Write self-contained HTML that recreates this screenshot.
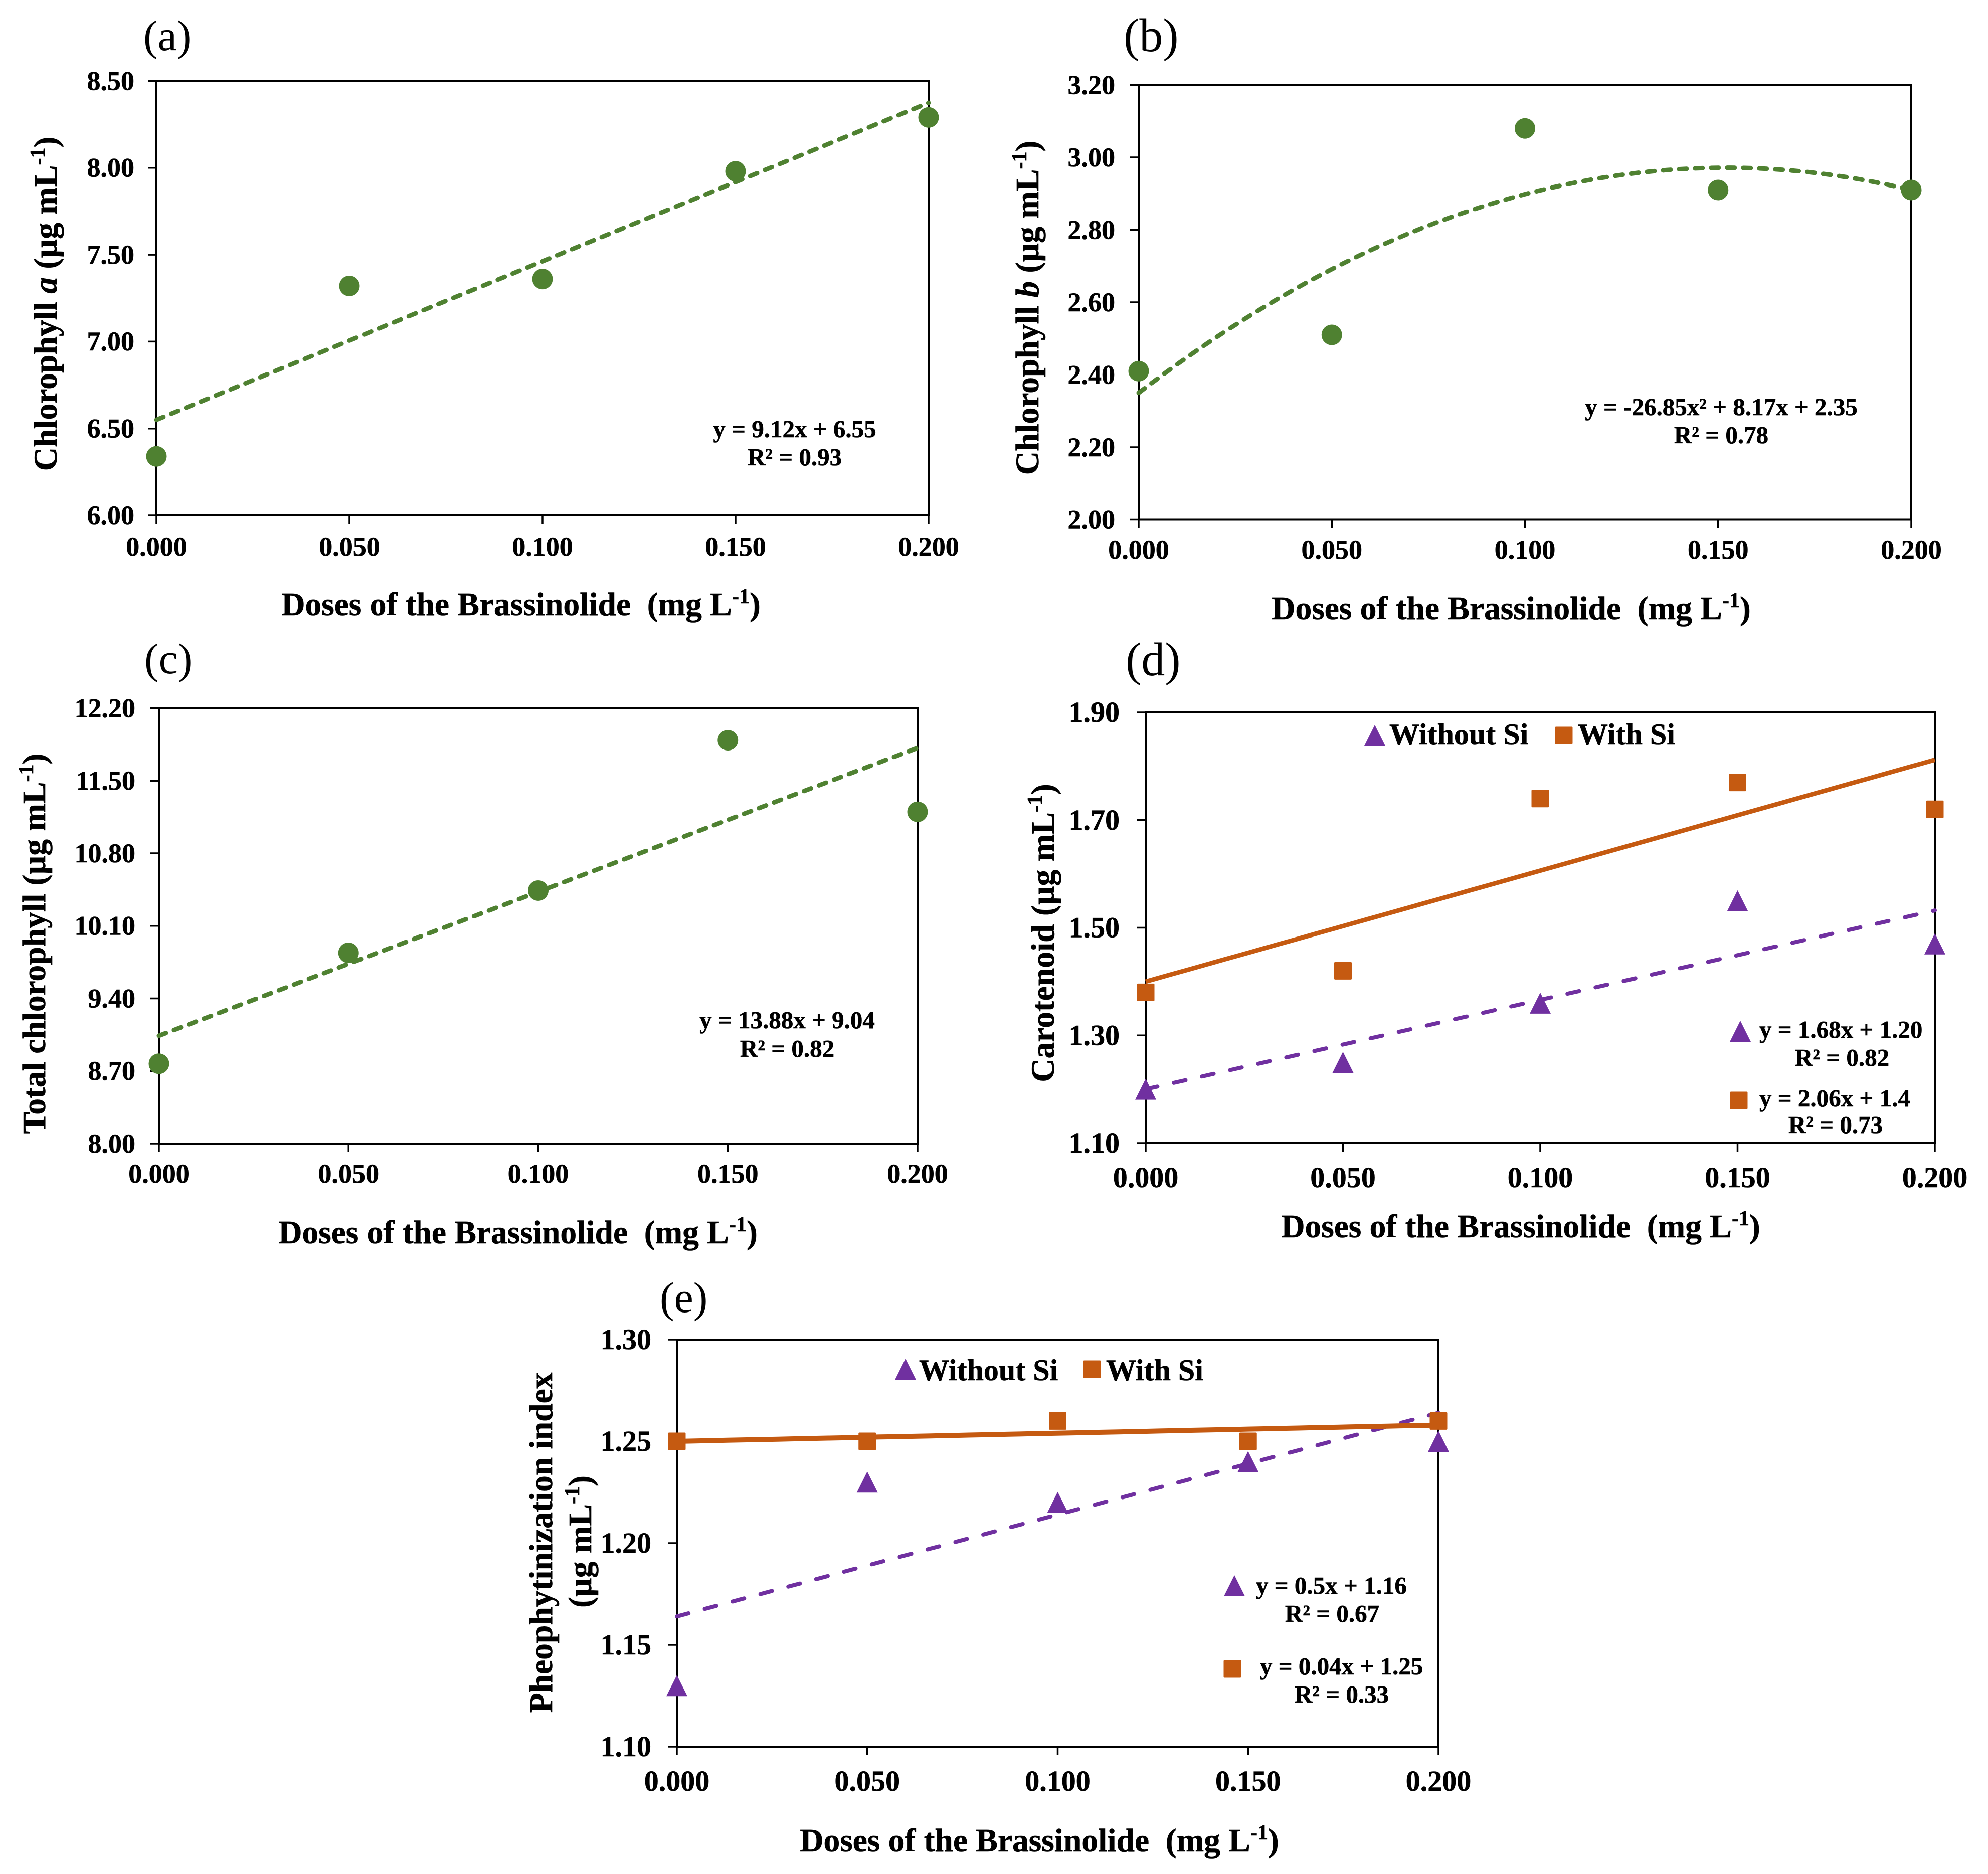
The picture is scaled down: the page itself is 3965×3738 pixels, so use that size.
<!DOCTYPE html>
<html lang="en">
<head>
<meta charset="utf-8">
<title>Brassinolide dose response charts</title>
<style>
html,body{margin:0;padding:0;background:#fff;}
svg{display:block;}
text{font-family:"Liberation Serif",serif;font-weight:bold;fill:#000;stroke:#000;stroke-width:0.6px;}
.panel-tag{font-weight:normal;font-size:86px;stroke-width:0;}
.panel-tag.big{font-size:94px;}
.axis-title{font-size:65.5px;}
.eq{font-size:49px;}
.legend{font-size:60px;}
</style>
</head>
<body>
<svg id="chart" xmlns="http://www.w3.org/2000/svg" width="3965" height="3738" viewBox="0 0 3965 3738">
  <rect width="3965" height="3738" fill="#fff"/>
  <g id="marks"></g>

  <!-- Panel a -->
  <text class="panel-tag" x="286" y="100">(a)</text>
  <text class="axis-title" text-anchor="middle" transform="translate(113 606) rotate(-90)">Chlorophyll <tspan font-style="italic">a</tspan> (µg mL<tspan dy="-24" font-size="42">-1</tspan><tspan dy="24">)</tspan></text>
  <text class="axis-title" text-anchor="middle" x="1039" y="1227" xml:space="preserve">Doses of the Brassinolide  (mg L<tspan dy="-24" font-size="42">-1</tspan><tspan dy="24">)</tspan></text>
  <text class="eq" text-anchor="middle" x="1585" y="872">y = 9.12x + 6.55</text>
  <text class="eq" text-anchor="middle" x="1585" y="928">R² = 0.93</text>

  <!-- Panel b -->
  <text class="panel-tag big" x="2241" y="102">(b)</text>
  <text class="axis-title" text-anchor="middle" transform="translate(2071 614) rotate(-90)">Chlorophyll <tspan font-style="italic">b</tspan> (µg mL<tspan dy="-24" font-size="42">-1</tspan><tspan dy="24">)</tspan></text>
  <text class="axis-title" text-anchor="middle" x="3014" y="1235" xml:space="preserve">Doses of the Brassinolide  (mg L<tspan dy="-24" font-size="42">-1</tspan><tspan dy="24">)</tspan></text>
  <text class="eq" text-anchor="middle" x="3433" y="828">y = -26.85x² + 8.17x + 2.35</text>
  <text class="eq" text-anchor="middle" x="3433" y="884">R² = 0.78</text>

  <!-- Panel c -->
  <text class="panel-tag" x="288" y="1343">(c)</text>
  <text class="axis-title" text-anchor="middle" transform="translate(90 1882) rotate(-90)">Total chlorophyll (µg mL<tspan dy="-24" font-size="42">-1</tspan><tspan dy="24">)</tspan></text>
  <text class="axis-title" text-anchor="middle" x="1033" y="2480" xml:space="preserve">Doses of the Brassinolide  (mg L<tspan dy="-24" font-size="42">-1</tspan><tspan dy="24">)</tspan></text>
  <text class="eq" text-anchor="middle" x="1570" y="2051">y = 13.88x + 9.04</text>
  <text class="eq" text-anchor="middle" x="1570" y="2108">R² = 0.82</text>

  <!-- Panel d -->
  <text class="panel-tag big" x="2245" y="1347">(d)</text>
  <text class="axis-title" text-anchor="middle" transform="translate(2102 1861) rotate(-90)">Carotenoid (µg mL<tspan dy="-24" font-size="42">-1</tspan><tspan dy="24">)</tspan></text>
  <text class="axis-title" text-anchor="middle" x="3033" y="2468" xml:space="preserve">Doses of the Brassinolide  (mg L<tspan dy="-24" font-size="42">-1</tspan><tspan dy="24">)</tspan></text>
  <text class="legend" x="2771" y="1485">Without Si</text>
  <text class="legend" x="3147" y="1485">With Si</text>
  <text class="eq" x="3509" y="2070">y = 1.68x + 1.20</text>
  <text class="eq" text-anchor="middle" x="3674" y="2126">R² = 0.82</text>
  <text class="eq" x="3509" y="2207">y = 2.06x + 1.4</text>
  <text class="eq" text-anchor="middle" x="3661" y="2260">R² = 0.73</text>

  <!-- Panel e -->
  <text class="panel-tag" x="1316" y="2617">(e)</text>
  <text class="axis-title" text-anchor="middle" transform="translate(1101 3077) rotate(-90)">Pheophytinization index</text>
  <text class="axis-title" text-anchor="middle" transform="translate(1179 3075) rotate(-90)">(µg mL<tspan dy="-24" font-size="42">-1</tspan><tspan dy="24">)</tspan></text>
  <text class="axis-title" text-anchor="middle" x="2073" y="3693" xml:space="preserve">Doses of the Brassinolide  (mg L<tspan dy="-24" font-size="42">-1</tspan><tspan dy="24">)</tspan></text>
  <text class="legend" x="1833" y="2753">Without Si</text>
  <text class="legend" x="2206" y="2753">With Si</text>
  <text class="eq" x="2505" y="3179">y = 0.5x + 1.16</text>
  <text class="eq" text-anchor="middle" x="2657" y="3235">R² = 0.67</text>
  <text class="eq" x="2513" y="3340">y = 0.04x + 1.25</text>
  <text class="eq" text-anchor="middle" x="2676" y="3396">R² = 0.33</text>
</svg>

<script>
// Shared category axis
const doses = [0, 0.05, 0.1, 0.15, 0.2];
const xTickLabels = ['0.000', '0.050', '0.100', '0.150', '0.200'];

// Panel a
const chlorophyllA = [6.34, 7.32, 7.36, 7.98, 8.29];
const chlorophyllATrend = [0, 9.12, 6.55];
const yTicksA = ['6.00', '6.50', '7.00', '7.50', '8.00', '8.50'];

// Panel b
const chlorophyllB = [2.41, 2.51, 3.08, 2.91, 2.91];
const chlorophyllBTrend = [-26.85, 8.17, 2.35];
const yTicksB = ['2.00', '2.20', '2.40', '2.60', '2.80', '3.00', '3.20'];

// Panel c
const totalChlorophyll = [8.77, 9.84, 10.44, 11.89, 11.2];
const totalChlorophyllTrend = [0, 13.88, 9.04];
const yTicksC = ['8.00', '8.70', '9.40', '10.10', '10.80', '11.50', '12.20'];

// Panel d
const carotenoidWithoutSi = [1.2, 1.25, 1.36, 1.55, 1.47];
const carotenoidWithSi = [1.38, 1.42, 1.74, 1.77, 1.72];
const carotenoidWithoutTrend = [0, 1.66, 1.2];
const carotenoidWithTrend = [0, 2.06, 1.4];
const yTicksD = ['1.10', '1.30', '1.50', '1.70', '1.90'];

// Panel e
const pheophytinWithoutSi = [1.13, 1.23, 1.22, 1.24, 1.25];
const pheophytinWithSi = [1.25, 1.25, 1.26, 1.25, 1.26];
const pheophytinWithoutTrend = [0, 0.5, 1.164];
const pheophytinWithTrend = [0, 0.04, 1.25];
const yTicksE = ['1.10', '1.15', '1.20', '1.25', '1.30'];

const GREEN = '#4f8131';
const PURPLE = '#7030a0';
const ORANGE = '#c55a11';
const NS = 'http://www.w3.org/2000/svg';
const root = document.getElementById('marks');

function make(tag, parent) {
  const el = document.createElementNS(NS, tag);
  parent.appendChild(el);
  return el;
}

function circleMark(parent, cx, cy, name) {
  const el = make('circle', parent);
  
  
  el.setAttribute('cx', cx);
  el.setAttribute('cy', cy);
  el.setAttribute('r', 20.5);
  el.setAttribute('fill', GREEN);
}

function squareMark(parent, cx, cy, name) {
  const el = make('rect', parent);
  
  
  el.setAttribute('x', cx - 17.5);
  el.setAttribute('y', cy - 17.5);
  el.setAttribute('width', 35);
  el.setAttribute('height', 35);
  el.setAttribute('rx', 2);
  el.setAttribute('fill', ORANGE);
}

function triangleMark(parent, cx, cy, name) {
  const el = make('polygon', parent);
  
  
  el.setAttribute('points', (cx) + ',' + (cy - 21) + ' ' + (cx + 21) + ',' + (cy + 21) + ' ' + (cx - 21) + ',' + (cy + 21));
  el.setAttribute('fill', PURPLE);
}

function drawPanel(cfg) {
  const g = make('g', root);
  
  

  const yVals = cfg.yTicks.map(parseFloat);
  const yMin = yVals[0];
  const yMax = yVals[yVals.length - 1];
  const xMin = doses[0];
  const xMax = doses[doses.length - 1];
  const xScale = v => cfg.x0 + (v - xMin) / (xMax - xMin) * (cfg.x1 - cfg.x0);
  const yScale = v => cfg.y1 - (v - yMin) / (yMax - yMin) * (cfg.y1 - cfg.y0);

  const frame = make('rect', g);
  
  
  frame.setAttribute('x', cfg.x0);
  frame.setAttribute('y', cfg.y0);
  frame.setAttribute('width', cfg.x1 - cfg.x0);
  frame.setAttribute('height', cfg.y1 - cfg.y0);
  frame.setAttribute('fill', 'none');
  frame.setAttribute('stroke', '#000');
  frame.setAttribute('stroke-width', 4);

  doses.forEach((d, i) => {
    const px = xScale(d);
    const tick = make('line', g);
    
    
    tick.setAttribute('x1', px);
    tick.setAttribute('x2', px);
    tick.setAttribute('y1', cfg.y1);
    tick.setAttribute('y2', cfg.y1 + 17);
    tick.setAttribute('stroke', '#000');
    tick.setAttribute('stroke-width', 3.5);
    const label = make('text', g);
    
    
    label.setAttribute('x', px);
    label.setAttribute('y', cfg.xLabelCenter + 0.33 * cfg.fs - 2);
    label.setAttribute('text-anchor', 'middle');
    label.setAttribute('font-size', cfg.fs);
    label.textContent = xTickLabels[i];
  });

  cfg.yTicks.forEach((t, i) => {
    const py = yScale(parseFloat(t));
    const tick = make('line', g);
    
    
    tick.setAttribute('x1', cfg.x0 - 17);
    tick.setAttribute('x2', cfg.x0);
    tick.setAttribute('y1', py);
    tick.setAttribute('y2', py);
    tick.setAttribute('stroke', '#000');
    tick.setAttribute('stroke-width', 3.5);
    const label = make('text', g);
    
    
    label.setAttribute('x', cfg.yLabelRight);
    label.setAttribute('y', py + 0.33 * cfg.fs);
    label.setAttribute('text-anchor', 'end');
    label.setAttribute('font-size', cfg.fs);
    label.textContent = t;
  });

  cfg.series.forEach(s => {
    const pts = [];
    for (let k = 0; k <= 60; k++) {
      const x = xMin + (xMax - xMin) * k / 60;
      const y = s.trend[0] * x * x + s.trend[1] * x + s.trend[2];
      pts.push(xScale(x).toFixed(1) + ',' + yScale(y).toFixed(1));
    }
    const line = make('polyline', g);
    
    
    line.setAttribute('points', pts.join(' '));
    line.setAttribute('fill', 'none');
    line.setAttribute('stroke', s.color);
    line.setAttribute('stroke-width', s.width);
    if (s.dash) {
      line.setAttribute('stroke-dasharray', s.dash);
      line.setAttribute('stroke-linecap', 'round');
    }
  });

  cfg.series.forEach(s => {
    s.values.forEach((v, i) => {
      s.mark(g, xScale(doses[i]), yScale(v), 'point-' + cfg.id + '-' + s.key + '-' + i);
    });
  });

  (cfg.keys || []).forEach(k => k.mark(g, k.x, k.y, k.name));
}

drawPanel({
  id: 'a', x0: 312, x1: 1852, y0: 161.5, y1: 1028, yTicks: yTicksA, fs: 54, xLabelCenter: 1093, yLabelRight: 268,
  series: [{ key: 'chlorophyll-a', values: chlorophyllA, trend: chlorophyllATrend, color: GREEN, width: 9, dash: '15 17', mark: circleMark }]
});
drawPanel({
  id: 'b', x0: 2271, x1: 3812, y0: 169.5, y1: 1036.5, yTicks: yTicksB, fs: 54, xLabelCenter: 1099, yLabelRight: 2224,
  series: [{ key: 'chlorophyll-b', values: chlorophyllB, trend: chlorophyllBTrend, color: GREEN, width: 9, dash: '15 17', mark: circleMark }]
});
drawPanel({
  id: 'c', x0: 317, x1: 1830, y0: 1412.5, y1: 2281, yTicks: yTicksC, fs: 54, xLabelCenter: 2343, yLabelRight: 270,
  series: [{ key: 'total-chlorophyll', values: totalChlorophyll, trend: totalChlorophyllTrend, color: GREEN, width: 9, dash: '15 17', mark: circleMark }]
});
drawPanel({
  id: 'd', x0: 2285, x1: 3859, y0: 1421, y1: 2280, yTicks: yTicksD, fs: 58, xLabelCenter: 2351, yLabelRight: 2233,
  series: [
    { key: 'without-si', values: carotenoidWithoutSi, trend: carotenoidWithoutTrend, color: PURPLE, width: 8, dash: '24 33.5', mark: triangleMark },
    { key: 'with-si', values: carotenoidWithSi, trend: carotenoidWithTrend, color: ORANGE, width: 9, dash: '', mark: squareMark }
  ],
  keys: [
    { mark: triangleMark, x: 2742, y: 1467, name: 'legend-key-without-si-d' },
    { mark: squareMark, x: 3119, y: 1467, name: 'legend-key-with-si-d' },
    { mark: triangleMark, x: 3471, y: 2057, name: 'equation-key-without-si-d' },
    { mark: squareMark, x: 3468, y: 2195, name: 'equation-key-with-si-d' }
  ]
});
drawPanel({
  id: 'e', x0: 1350, x1: 2869, y0: 2672, y1: 3484, yTicks: yTicksE, fs: 58, xLabelCenter: 3555, yLabelRight: 1299,
  series: [
    { key: 'without-si', values: pheophytinWithoutSi, trend: pheophytinWithoutTrend, color: PURPLE, width: 8, dash: '24 33.5', mark: triangleMark },
    { key: 'with-si', values: pheophytinWithSi, trend: pheophytinWithTrend, color: ORANGE, width: 10, dash: '', mark: squareMark }
  ],
  keys: [
    { mark: triangleMark, x: 1806, y: 2731, name: 'legend-key-without-si-e' },
    { mark: squareMark, x: 2178, y: 2731, name: 'legend-key-with-si-e' },
    { mark: triangleMark, x: 2462, y: 3163, name: 'equation-key-without-si-e' },
    { mark: squareMark, x: 2458, y: 3329, name: 'equation-key-with-si-e' }
  ]
});
</script>
</body>
</html>
